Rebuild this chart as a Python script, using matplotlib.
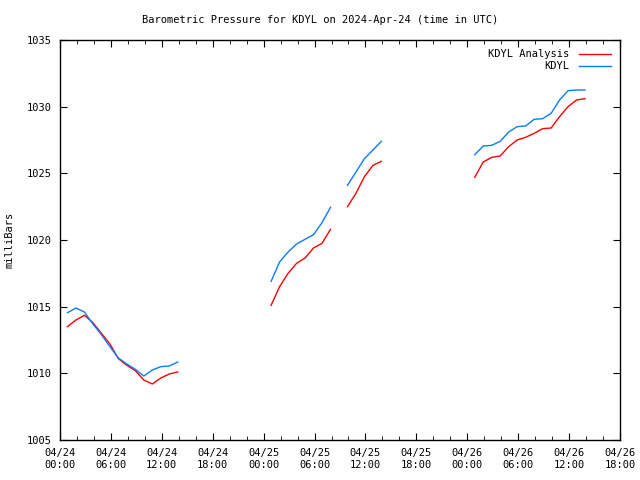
import numpy as np
import matplotlib
matplotlib.use('Agg')
import matplotlib.pyplot as plt
from matplotlib.ticker import MultipleLocator

# ore de la 04/24 00:00 UTC (observatii la :53)
ore_1 = [0.88 + i for i in range(14)]
analiza_1 = [1013.5, 1014.0, 1014.35, 1013.8, 1013.0, 1012.2, 1011.1, 1010.6,
             1010.2, 1009.5, 1009.2, 1009.65, 1009.95, 1010.1]
kdyl_1 = [1014.55, 1014.9, 1014.6, 1013.7, 1012.9, 1012.0, 1011.15, 1010.7,
          1010.3, 1009.8, 1010.25, 1010.5, 1010.55, 1010.85]

ore_2 = [24.88 + i for i in range(8)]
analiza_2 = [1015.1, 1016.5, 1017.5, 1018.25, 1018.65, 1019.4, 1019.75, 1020.8]
kdyl_2 = [1016.9, 1018.35, 1019.1, 1019.7, 1020.05, 1020.4, 1021.3, 1022.45]

ore_3 = [33.88 + i for i in range(5)]
analiza_3 = [1022.5, 1023.5, 1024.75, 1025.6, 1025.9]
kdyl_3 = [1024.1, 1025.1, 1026.1, 1026.75, 1027.4]

ore_4 = [48.88 + i for i in range(14)]
analiza_4 = [1024.7, 1025.85, 1026.2, 1026.3, 1027.0, 1027.5, 1027.7, 1028.0,
             1028.35, 1028.4, 1029.25, 1030.0, 1030.5, 1030.6]
kdyl_4 = [1026.4, 1027.05, 1027.1, 1027.4, 1028.1, 1028.5, 1028.55, 1029.05,
          1029.1, 1029.5, 1030.5, 1031.2, 1031.25, 1031.25]

etichete_x = ['04/24\n00:00', '04/24\n06:00', '04/24\n12:00', '04/24\n18:00',
              '04/25\n00:00', '04/25\n06:00', '04/25\n12:00', '04/25\n18:00',
              '04/26\n00:00', '04/26\n06:00', '04/26\n12:00', '04/26\n18:00']

# segmentele sunt unite cu NaN ca sa ramana pauze in linie
ore = []
analiza = []
kdyl = []
for o, a, k in [(ore_1, analiza_1, kdyl_1), (ore_2, analiza_2, kdyl_2),
                (ore_3, analiza_3, kdyl_3), (ore_4, analiza_4, kdyl_4)]:
    ore += list(o) + [np.nan]
    analiza += list(a) + [np.nan]
    kdyl += list(k) + [np.nan]

plt.rcParams['font.family'] = 'DejaVu Sans Mono'
plt.rcParams['font.size'] = 7.5

fig = plt.figure(figsize=(6.4, 4.8), dpi=100)
ax = fig.add_axes([60 / 640, 40 / 480, 560 / 640, 400 / 480])

ax.plot(ore, analiza, color='#ff0000', lw=1, label='KDYL Analysis')
ax.plot(ore, kdyl, color='#0a7cff', lw=1, label='KDYL')

ax.set_xlim(0, 66)
ax.set_ylim(1005, 1035)
ax.set_xticks(np.arange(0, 67, 6))
ax.set_xticklabels(etichete_x)
ax.xaxis.set_minor_locator(MultipleLocator(2))
ax.set_yticks(np.arange(1005, 1036, 5))
ax.tick_params(direction='in', which='both', top=True, right=True, pad=6)
ax.tick_params(which='major', length=5)
ax.tick_params(which='minor', length=3)
for s in ax.spines.values():
    s.set_linewidth(1)

ax.set_ylabel('milliBars', va='center')
ax.yaxis.set_label_coords(-50 / 560, 0.5)
fig.text(0.5, 1 - 20 / 480, 'Barometric Pressure for KDYL on 2024-Apr-24 (time in UTC)',
         ha='center', va='center')

ax.legend(loc='upper right', frameon=False, markerfirst=False, handlelength=3.0,
          borderaxespad=0.5, labelspacing=0.2, handletextpad=1.0)

fig.savefig('out.png', dpi=100)
